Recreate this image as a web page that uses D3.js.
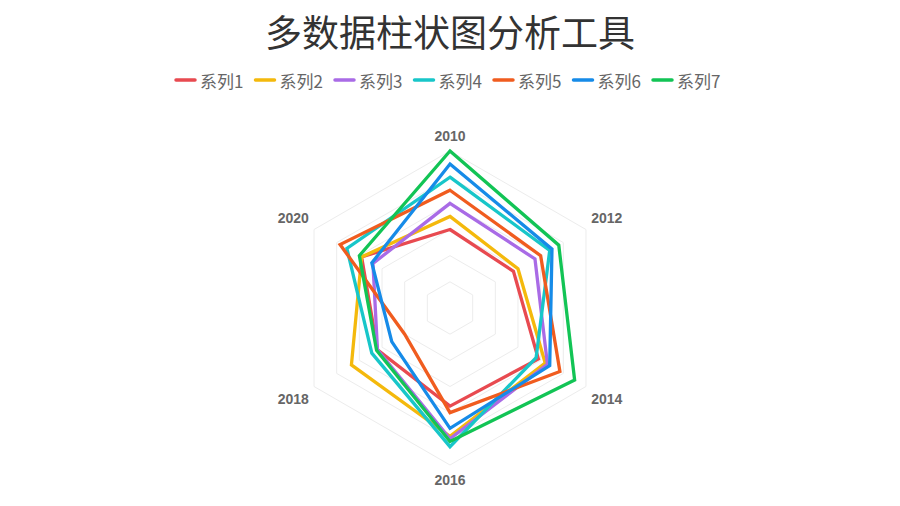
<!DOCTYPE html>
<html>
<head>
<meta charset="utf-8">
<script src="https://cdn.jsdelivr.net/npm/d3@7"></script>
<style>
  html, body { margin: 0; padding: 0; background: #fff; }
  svg { display: block; }
</style>
</head>
<body>
<svg width="900" height="506"></svg>
<script>
// Radar chart: 7 series over 6 years

var years = ["2010", "2012", "2014", "2016", "2018", "2020"];
var seriesNames = ["系列1", "系列2", "系列3", "系列4", "系列5", "系列6", "系列7"];
var colors = ["#e84a50", "#f4b90c", "#a96be6", "#18c6c9", "#f05c1f", "#168be8", "#12c455"];

// one array per series, one value per year
var s1 = [30, 28, 39, 37.5, 32, 39];
var s2 = [35, 30, 42, 49, 43.5, 39];
var s3 = [40, 37.5, 43, 50, 32, 34];
var s4 = [50, 44, 38, 53, 34.5, 45.5];
var s5 = [45, 40, 48.5, 40, 20, 48.5];
var s6 = [55, 45, 44, 46, 25.7, 34.5];
var s7 = [60, 48, 55, 51, 32.4, 40];
var seriesValues = [s1, s2, s3, s4, s5, s6, s7];

var maxValue = 60;
var ringTicks = [10, 20, 30, 40, 50, 60];

var svg = d3.select("svg");
var CX = 450, CY = 308, RADIUS = 157;

var r = d3.scaleLinear().domain([0, maxValue]).range([0, RADIUS]);
var angle = d3.scalePoint().domain(years).range([0, 2 * Math.PI * (years.length - 1) / years.length]);

var radarLine = d3.lineRadial()
  .angle(function(d, i) { return angle(years[i]); })
  .radius(function(d) { return r(d); })
  .curve(d3.curveLinearClosed);

// title
svg.append("text")
  .attr("x", 450).attr("y", 47)
  .attr("text-anchor", "middle")
  .attr("font-family", "'Noto Sans CJK SC', sans-serif")
  .attr("font-size", 37)
  .attr("fill", "#333")
  .text("多数据柱状图分析工具");

// legend
var legend = svg.append("g").attr("transform", "translate(176,80)");
var item = legend.selectAll("g").data(seriesNames).enter().append("g")
  .attr("transform", function(d, i) { return "translate(" + (i * 79.5) + ",0)"; });
item.append("line")
  .attr("x1", 0).attr("x2", 19).attr("y1", 0).attr("y2", 0)
  .attr("stroke", function(d, i) { return colors[i]; })
  .attr("stroke-width", 3.5)
  .attr("stroke-linecap", "round");
item.append("text")
  .attr("x", 24).attr("y", 0)
  .attr("dominant-baseline", "central")
  .attr("font-family", "'Noto Sans CJK SC', sans-serif")
  .attr("font-size", 17)
  .attr("fill", "#666")
  .text(function(d) { return d; });

var plot = svg.append("g").attr("transform", "translate(" + CX + "," + CY + ")");

// grid rings
plot.append("g").selectAll("path").data(ringTicks).enter().append("path")
  .attr("d", function(t) { return radarLine(years.map(function() { return t; })); })
  .attr("fill", "none")
  .attr("stroke", "#ececec")
  .attr("stroke-width", 1);

// axis labels
plot.append("g").selectAll("text").data(years).enter().append("text")
  .attr("x", function(d) {
    var a = angle(d);
    var lr = Math.abs(Math.sin(a)) > 0.1 ? 181 : 172;
    return lr * Math.sin(a);
  })
  .attr("y", function(d) {
    var a = angle(d);
    var lr = Math.abs(Math.sin(a)) > 0.1 ? 181 : 172;
    return -lr * Math.cos(a);
  })
  .attr("text-anchor", "middle")
  .attr("dominant-baseline", "central")
  .attr("font-family", "'Liberation Sans', Arial, sans-serif")
  .attr("font-weight", "bold")
  .attr("font-size", 14)
  .attr("fill", "#666")
  .text(function(d) { return d; });

// series
plot.append("g").selectAll("path").data(seriesValues).enter().append("path")
  .attr("d", function(vals) { return radarLine(vals); })
  .attr("fill", "none")
  .attr("stroke", function(d, i) { return colors[i]; })
  .attr("stroke-width", 3.3)
  .attr("stroke-linejoin", "miter");
</script>
</body>
</html>
